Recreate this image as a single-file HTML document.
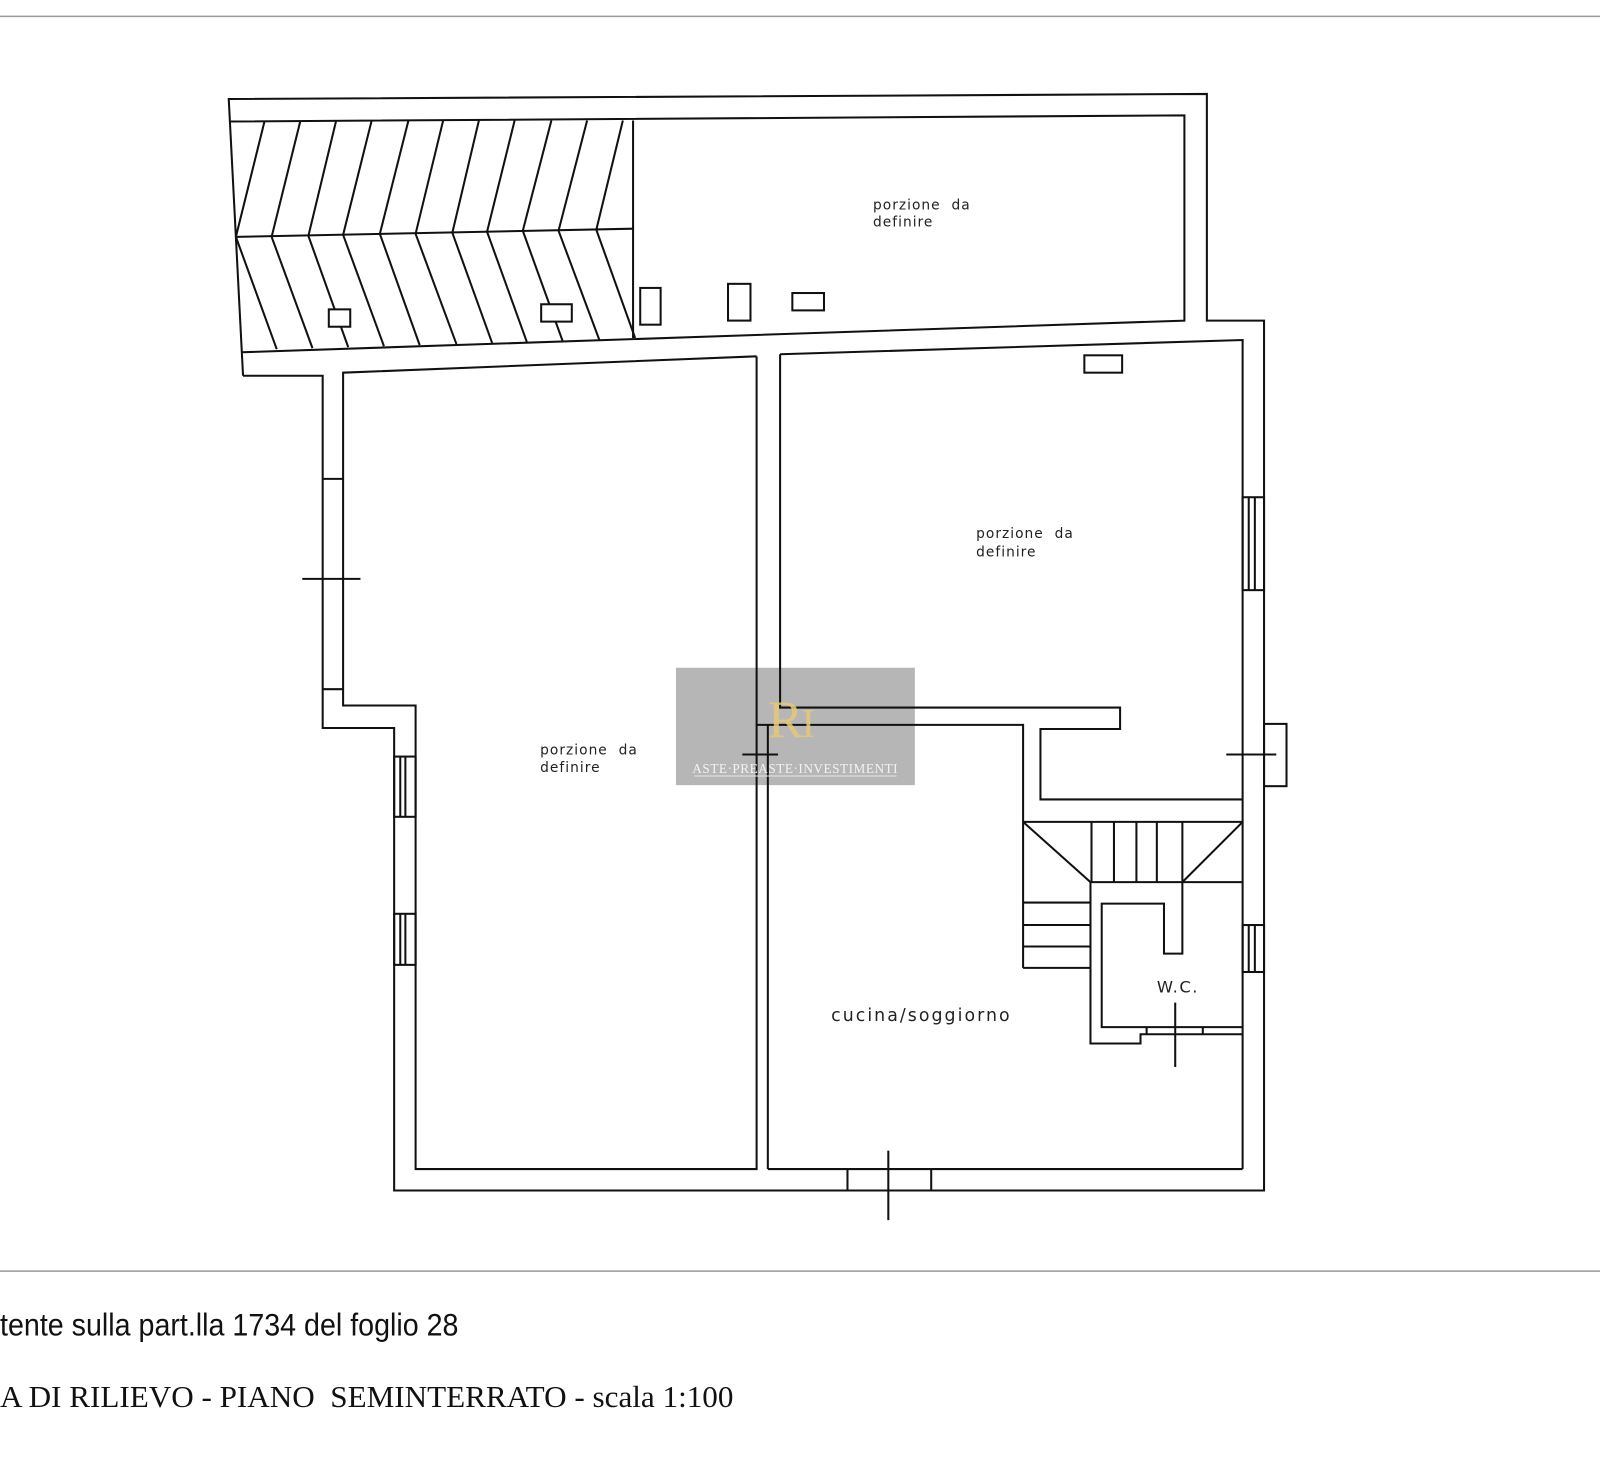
<!DOCTYPE html>
<html><head><meta charset="utf-8"><style>
html,body{margin:0;padding:0;background:#fff;}
svg{display:block;}
</style></head><body>
<svg width="1600" height="1458" viewBox="0 0 1567 1428" xmlns="http://www.w3.org/2000/svg">
<rect width="1567" height="1428" fill="#fff"/>
<line x1="0" y1="16" x2="1567" y2="16" stroke="#999" stroke-width="1.5"/>
<line x1="0" y1="1245" x2="1567" y2="1245" stroke="#999" stroke-width="1.5"/>
<rect x="662" y="654" width="234" height="115" fill="#b6b6b7"/>
<g fill="none" stroke="#111" stroke-width="2">
<polyline points="238,368 224,97 1182,92 1182,314 1238,314 1238,1166 386,1166 386,713 316,713 316,368 238,368"/>
<polyline points="226,119 1160,113 1160,314 237,345"/>
<line x1="231" y1="232" x2="620" y2="224"/>
<line x1="620" y1="118" x2="620" y2="331"/>
<line x1="259" y1="119" x2="231" y2="232"/><line x1="294" y1="119" x2="266" y2="232"/>
<line x1="329" y1="119" x2="302" y2="231"/><line x1="364" y1="118" x2="336" y2="230"/>
<line x1="400" y1="118" x2="372" y2="229"/><line x1="434" y1="118" x2="407" y2="229"/>
<line x1="469" y1="118" x2="443" y2="228"/><line x1="504" y1="118" x2="477" y2="227"/>
<line x1="540" y1="118" x2="512" y2="226"/><line x1="575" y1="118" x2="547" y2="226"/>
<line x1="610" y1="118" x2="584" y2="225"/>
<line x1="231" y1="232" x2="271" y2="342"/><line x1="266" y1="232" x2="306" y2="341"/>
<line x1="302" y1="231" x2="341" y2="340"/><line x1="336" y1="230" x2="376" y2="339"/>
<line x1="372" y1="229" x2="411" y2="338"/><line x1="407" y1="229" x2="447" y2="337"/>
<line x1="443" y1="228" x2="482" y2="336"/><line x1="477" y1="227" x2="516" y2="335"/>
<line x1="512" y1="226" x2="551" y2="334"/><line x1="547" y1="226" x2="587" y2="333"/>
<line x1="584" y1="225" x2="622" y2="331"/>
<rect x="322" y="303" width="21" height="17" fill="#fff"/>
<rect x="530" y="298" width="30" height="17" fill="#fff"/>
<rect x="627" y="282" width="20" height="36"/>
<rect x="713" y="278" width="22" height="36"/>
<rect x="776" y="287" width="31" height="17"/>
<rect x="1062" y="348" width="37" height="17"/>
<polyline points="741,349 336,365 336,691 407,691 407,1145 741,1145 741,349"/>
<line x1="316" y1="469" x2="336" y2="469"/><line x1="316" y1="675" x2="336" y2="675"/>
<line x1="296" y1="567" x2="353" y2="567"/>
<rect x="386" y="741" width="21" height="59"/><line x1="392" y1="741" x2="392" y2="800"/><line x1="397" y1="741" x2="397" y2="800"/>
<rect x="386" y="895" width="21" height="50"/><line x1="392" y1="895" x2="392" y2="945"/><line x1="397" y1="895" x2="397" y2="945"/>
<polyline points="764,347 1217,333 1217,1145"/>
<polyline points="764,347 764,693 1097,693 1097,714 1019,714 1019,783 1217,783"/>
<polyline points="741,710 1002,710 1002,948"/>
<line x1="752" y1="710" x2="752" y2="1145"/>
<line x1="727" y1="739" x2="762" y2="739"/>
<rect x="1217" y="487" width="21" height="91"/><line x1="1223" y1="487" x2="1223" y2="578"/><line x1="1229" y1="487" x2="1229" y2="578"/>
<rect x="1217" y="906" width="21" height="46"/><line x1="1223" y1="906" x2="1223" y2="952"/><line x1="1229" y1="906" x2="1229" y2="952"/>
<rect x="1238" y="709" width="22" height="61"/>
<line x1="1201" y1="739" x2="1250" y2="739"/>
<line x1="1002" y1="805" x2="1217" y2="805"/>
<line x1="1002" y1="805" x2="1068" y2="864"/><line x1="1217" y1="805" x2="1158" y2="864"/>
<line x1="1069" y1="805" x2="1069" y2="864"/><line x1="1091" y1="805" x2="1091" y2="864"/>
<line x1="1113" y1="805" x2="1113" y2="864"/><line x1="1133" y1="805" x2="1133" y2="864"/>
<line x1="1158" y1="805" x2="1158" y2="864"/>
<line x1="1068" y1="864" x2="1217" y2="864"/>
<line x1="1002" y1="884" x2="1068" y2="884"/><line x1="1002" y1="906" x2="1068" y2="906"/>
<line x1="1002" y1="927" x2="1068" y2="927"/><line x1="1002" y1="948" x2="1068" y2="948"/>
<polyline points="1068,864 1068,1022 1117,1022 1117,1013 1217,1013"/>
<polyline points="1158,864 1158,934 1140,934 1140,885 1079,885 1079,1006 1217,1006"/>
<line x1="1123" y1="1006" x2="1123" y2="1013"/><line x1="1178" y1="1006" x2="1178" y2="1013"/>
<line x1="1151" y1="982" x2="1151" y2="1045"/>
<line x1="752" y1="1145" x2="1217" y2="1145"/>
<line x1="830" y1="1145" x2="830" y2="1166"/><line x1="912" y1="1145" x2="912" y2="1166"/>
<line x1="870" y1="1127" x2="870" y2="1195"/>
</g>
<g font-family="'DejaVu Sans','Liberation Sans',sans-serif" fill="#222" font-size="13.5" letter-spacing="1">
<text x="855" y="205">porzione&#160; da</text><text x="855" y="222">definire</text>
<text x="956" y="527">porzione&#160; da</text><text x="956" y="545">definire</text>
<text x="529" y="739">porzione&#160; da</text><text x="529" y="756">definire</text>
<text x="814" y="1000" font-size="17" letter-spacing="2">cucina/soggiorno</text>
<text x="1133" y="972" font-size="16" letter-spacing="1.5">W.C.</text>
</g>
<text x="752" y="722" font-family="'Liberation Serif',serif" font-size="52" fill="#e8c878" opacity="0.85">R</text>
<text x="785" y="722" font-family="'Liberation Serif',serif" font-size="40" fill="#e8c878" opacity="0.85">I</text>
<line x1="680" y1="760" x2="878" y2="760" stroke="#e6e6e6" stroke-width="1"/>
<text x="678" y="757" font-family="'Liberation Serif',serif" font-size="13" fill="#f2f2f2" letter-spacing="0.5">ASTE·PREASTE·INVESTIMENTI</text>
<text x="0" y="1308" font-family="'Liberation Sans',sans-serif" font-size="31" fill="#111" transform="scale(0.905,1)">tente sulla part.lla 1734 del foglio 28</text>
<text x="0" y="1378" font-family="'Liberation Serif',serif" font-size="30.5" fill="#111">A DI RILIEVO - PIANO&#160; SEMINTERRATO - scala 1:100</text>
</svg>
</body></html>
